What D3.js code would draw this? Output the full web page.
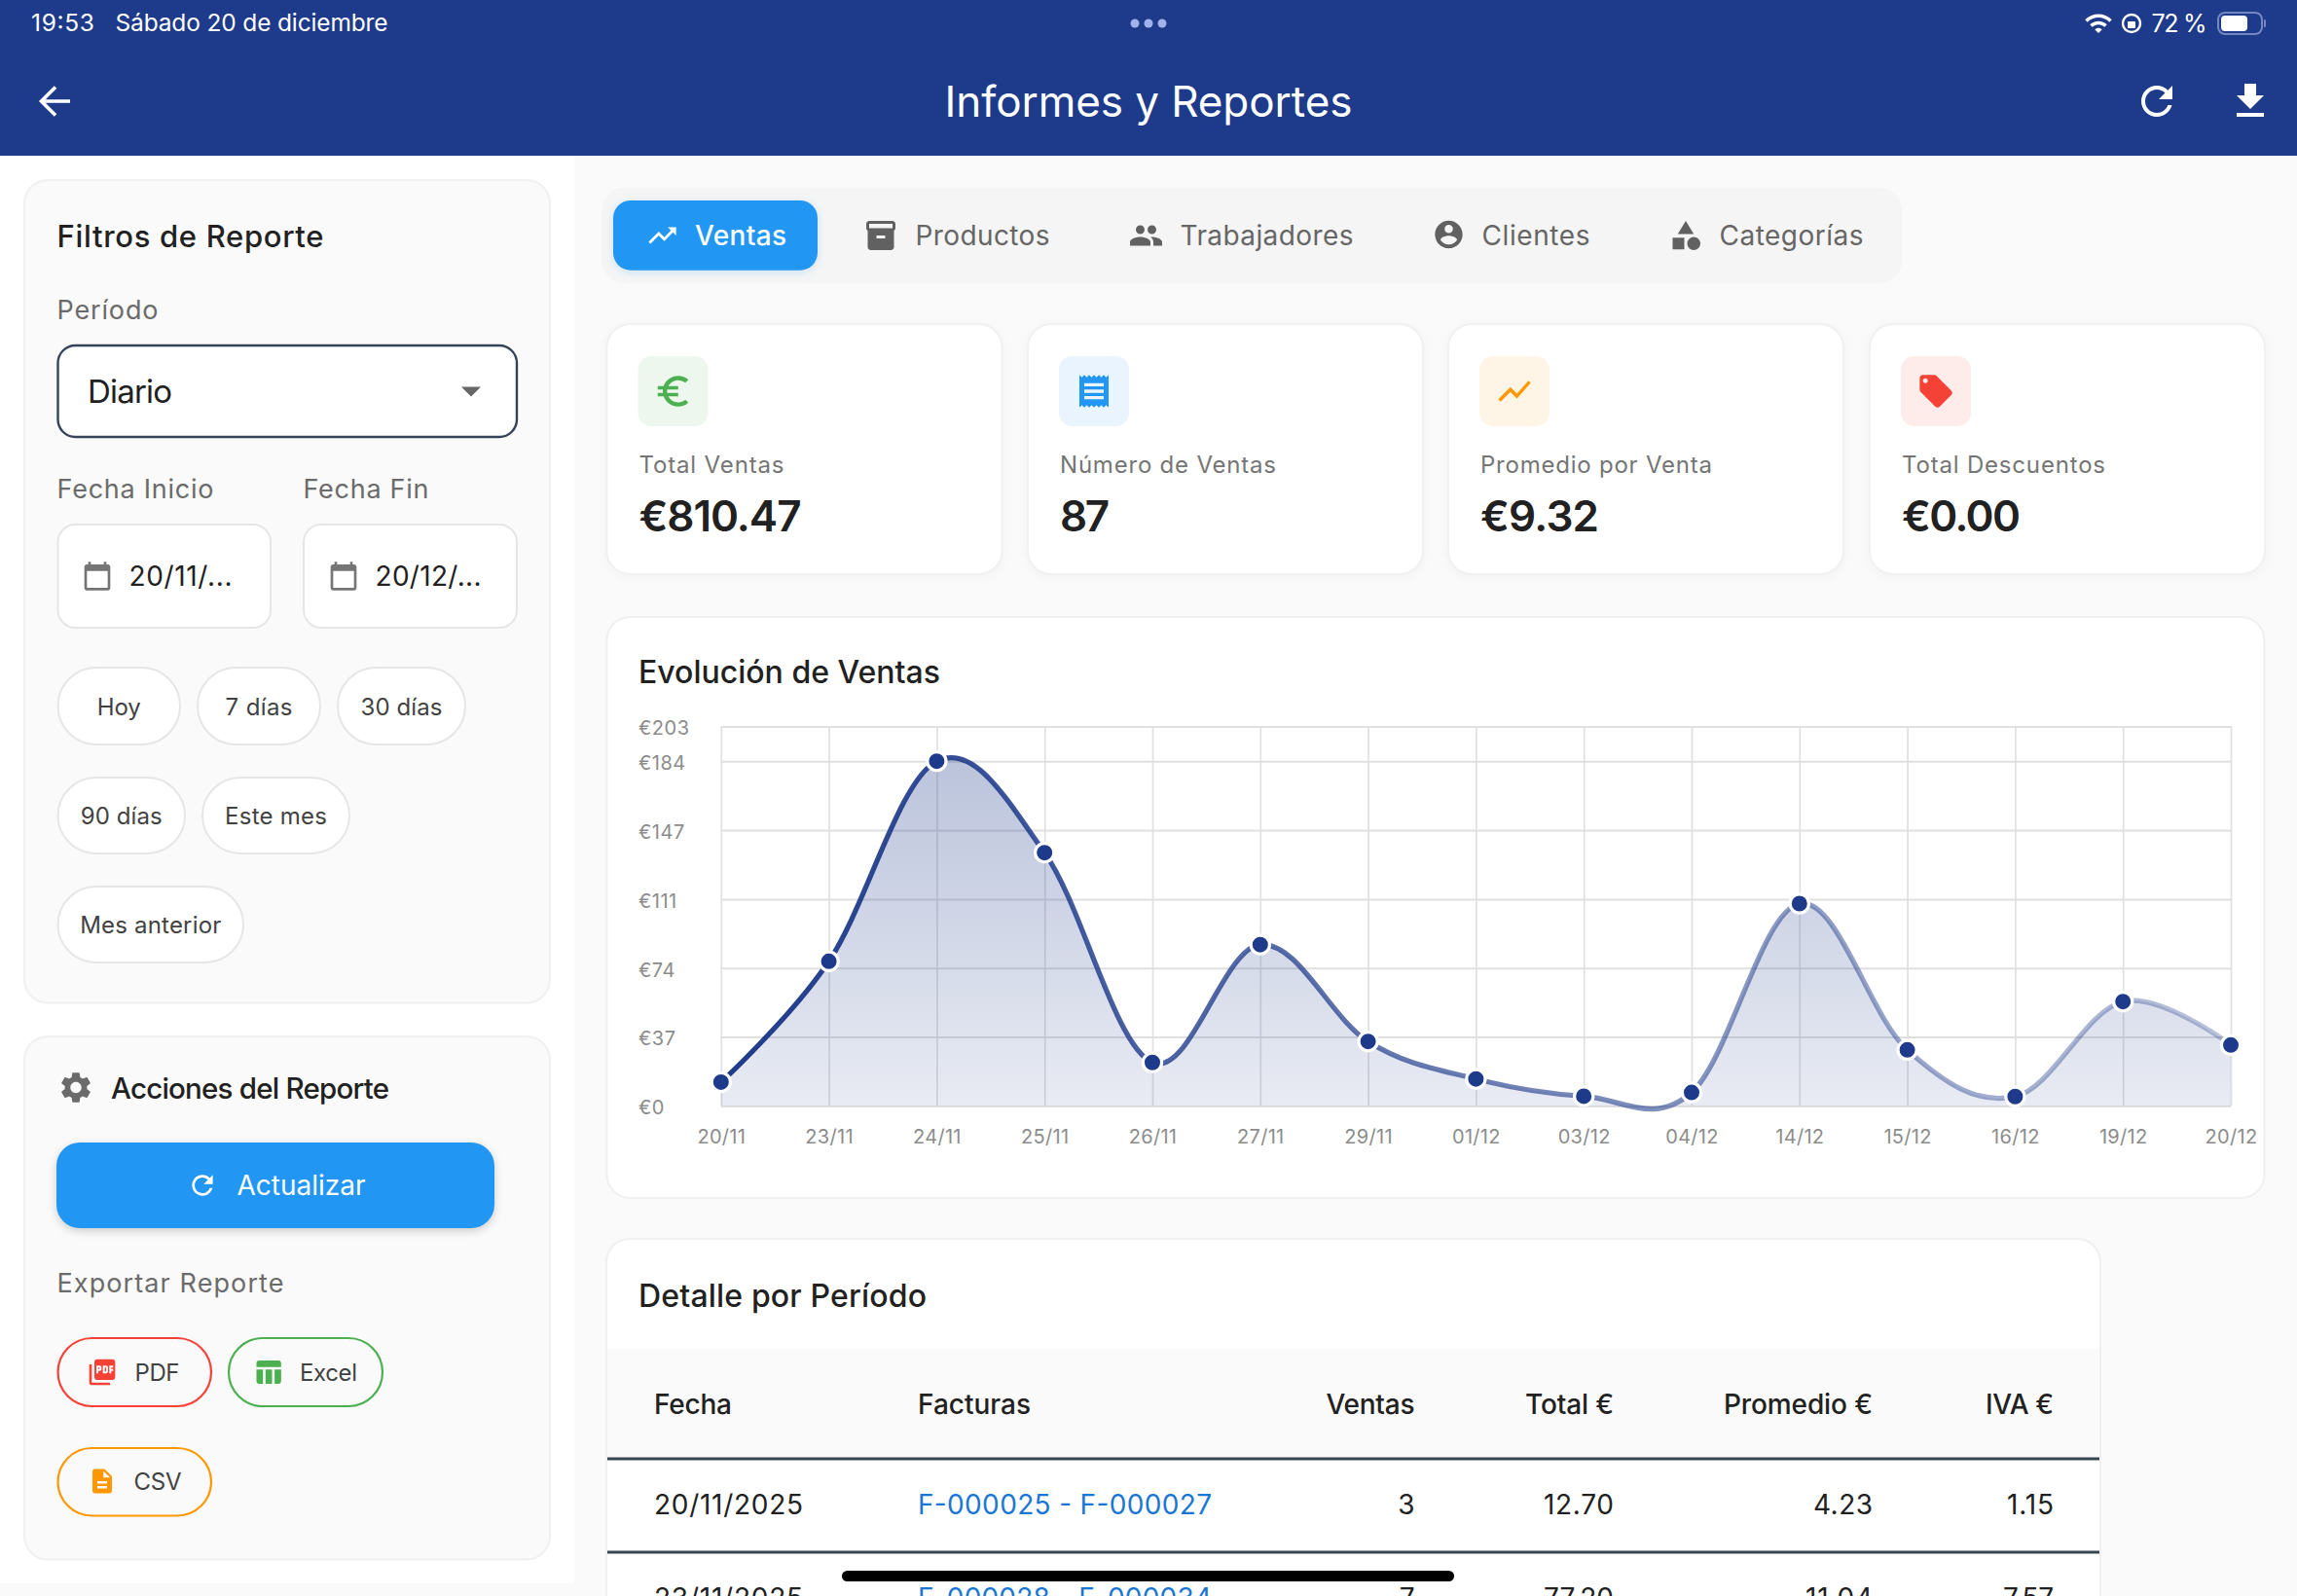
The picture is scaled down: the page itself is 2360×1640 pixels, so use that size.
<!DOCTYPE html>
<html lang="es">
<head>
<meta charset="utf-8">
<title>Informes y Reportes</title>
<script src="https://cdn.jsdelivr.net/npm/d3@7"></script>
<style>
html,body{margin:0;padding:0;background:#fafafa;overflow:hidden}
svg{display:block}
text{font-family:Inter,"Noto Sans",sans-serif}
</style>
</head>
<body>
<svg id="c" width="2360" height="1640" viewBox="0 0 2360 1640"></svg>
<script>
// ---------- DATA ----------
const dates = ["20/11","23/11","24/11","25/11","26/11","27/11","29/11","01/12","03/12","04/12","14/12","15/12","16/12","19/12","20/12"];
const sales = [12.7,77.2,184,135.2,23.2,86.1,34.4,14.4,5.2,7.2,108,29.9,5,55.7,32.5];
const yTickValues = [0,36.8,73.6,110.4,147.2,184,202.6];
const yTickLabels = ["€0","€37","€74","€111","€147","€184","€203"];
const kpiLabels = ["Total Ventas","Número de Ventas","Promedio por Venta","Total Descuentos"];
const kpiValues = ["€810.47","87","€9.32","€0.00"];
const tableHeaders = ["Fecha","Facturas","Ventas","Total €","Promedio €","IVA €"];
const rowDates = ["20/11/2025","23/11/2025"];
const rowInvoices = ["F-000025 - F-000027","F-000028 - F-000034"];
const rowVentas = ["3","7"];
const rowTotals = ["12.70","77.20"];
const rowAverages = ["4.23","11.04"];
const rowIva = ["1.15","7.57"];

// ---------- ICONS ----------
const P = {
 refresh:"M17.65 6.35C16.2 4.9 14.21 4 12 4c-4.42 0-7.99 3.58-7.99 8s3.57 8 7.99 8c3.73 0 6.84-2.55 7.73-6h-2.08c-.82 2.33-3.04 4-5.65 4-3.31 0-6-2.69-6-6s2.69-6 6-6c1.66 0 3.14.69 4.22 1.78L13 11h7V4l-2.35 2.35z",
 download:"M19 9h-4V3H9v6H5l7 7 7-7zM5 18v2h14v-2H5z",
 trend:"M16 6l2.29 2.29-4.88 4.88-4-4L2 16.59 3.41 18l6-6 4 4 6.3-6.29L22 12V6z",
 show:"M3.5 18.49l6-6.01 4 4L22 6.92l-1.41-1.41-7.09 7.97-4-4L2 16.99z",
 box:"M20 2H4c-1 0-2 .9-2 2v3.01c0 .72.43 1.34 1 1.69V20c0 1.1 1.1 2 2 2h14c.9 0 2-.9 2-2V8.7c.57-.35 1-.97 1-1.69V4c0-1.1-1-2-2-2zm-5 12H9v-2h6v2zm5-7H4V4l16-.02V7z",
 people:"M16 11c1.66 0 2.99-1.34 2.99-3S17.66 5 16 5c-1.66 0-3 1.34-3 3s1.34 3 3 3zm-8 0c1.66 0 2.99-1.34 2.99-3S9.66 5 8 5C6.34 5 5 6.34 5 8s1.34 3 3 3zm0 2c-2.33 0-7 1.17-7 3.5V19h14v-2.5c0-2.33-4.67-3.5-7-3.5zm8 0c-.29 0-.62.02-.97.05 1.16.84 1.97 1.97 1.97 3.45V19h6v-2.5c0-2.33-4.67-3.5-7-3.5z",
 account:"M12 2C6.48 2 2 6.48 2 12s4.48 10 10 10 10-4.48 10-10S17.52 2 12 2zm0 3c1.66 0 3 1.34 3 3s-1.34 3-3 3-3-1.34-3-3 1.34-3 3-3zm0 14.2c-2.5 0-4.71-1.28-6-3.22.03-1.99 4-3.08 6-3.08 1.99 0 5.97 1.09 6 3.08-1.29 1.94-3.5 3.22-6 3.22z",
 category:"M12 2l-5.5 9h11zM17.5 13a4.5 4.5 0 1 0 0 9a4.5 4.5 0 1 0 0-9zM3 13.5h8v8H3z",
 calendar:"M20 3h-1V1h-2v2H7V1H5v2H4c-1.1 0-2 .9-2 2v16c0 1.1.9 2 2 2h16c1.1 0 2-.9 2-2V5c0-1.1-.9-2-2-2zm0 18H4V8h16v13z",
 gear:"M19.14 12.94c.04-.3.06-.61.06-.94 0-.32-.02-.64-.07-.94l2.03-1.58c.18-.14.23-.41.12-.61l-1.92-3.32c-.12-.22-.37-.29-.59-.22l-2.39.96c-.5-.38-1.03-.7-1.62-.94l-.36-2.54c-.04-.24-.24-.41-.48-.41h-3.84c-.24 0-.43.17-.47.41l-.36 2.54c-.59.24-1.13.57-1.62.94l-2.39-.96c-.22-.08-.47 0-.59.22L2.74 8.87c-.12.21-.08.47.12.61l2.03 1.58c-.05.3-.09.63-.09.94s.02.64.07.94l-2.03 1.58c-.18.14-.23.41-.12.61l1.92 3.32c.12.22.37.29.59.22l2.39-.96c.5.38 1.03.7 1.62.94l.36 2.54c.05.24.24.41.48.41h3.84c.24 0 .44-.17.47-.41l.36-2.54c.59-.24 1.13-.56 1.62-.94l2.39.96c.22.08.47 0 .59-.22l1.92-3.32c.12-.22.07-.47-.12-.61l-2.01-1.58zM12 15.6c-1.98 0-3.6-1.62-3.6-3.6s1.62-3.6 3.6-3.6 3.6 1.62 3.6 3.6-1.62 3.6-3.6 3.6z",
 pdf:"M20 2H8c-1.1 0-2 .9-2 2v12c0 1.1.9 2 2 2h12c1.1 0 2-.9 2-2V4c0-1.1-.9-2-2-2zm-8.5 7.5c0 .83-.67 1.5-1.5 1.5H9v2H7.5V7H10c.83 0 1.5.67 1.5 1.5v1zm5 2c0 .83-.67 1.5-1.5 1.5h-2.5V7H15c.83 0 1.5.67 1.5 1.5v3zm4-3H19v1h1.5V11H19v2h-1.5V7h3v1.5zM9 9.5h1v-1H9v1zM4 6H2v14c0 1.1.9 2 2 2h14v-2H4V6zm10 5.5h1v-3h-1v3z",
 table:"M10 10.02h5V21h-5zM17 21h3c1.1 0 2-.9 2-2v-9h-5v11zm3-18H5c-1.1 0-2 .9-2 2v3h19V5c0-1.1-.9-2-2-2zM3 19c0 1.1.9 2 2 2h3V10H3v9z",
 doc:"M14 2H6c-1.1 0-1.99.9-1.99 2L4 20c0 1.1.89 2 1.99 2H18c1.1 0 2-.9 2-2V8l-6-6zm2 16H8v-2h8v2zm0-4H8v-2h8v2zm-3-5V3.5L18.5 9H13z",
 euro:"M15 18.5c-2.51 0-4.68-1.42-5.76-3.5H15v-2H8.58c-.05-.33-.08-.66-.08-1s.03-.67.08-1H15V9H9.24C10.32 6.92 12.5 5.5 15 5.5c1.61 0 3.09.59 4.23 1.57L21 5.3C19.41 3.87 17.3 3 15 3c-3.92 0-7.24 2.51-8.56 6H3v2h3.06c-.04.33-.06.66-.06 1 0 .34.02.67.06 1H3v2h3.44c1.32 3.49 4.64 6 8.56 6 2.31 0 4.41-.87 6-2.3l-1.78-1.77c-1.13.98-2.6 1.57-4.22 1.57z",
 receipt:"M18 17H6v-2h12v2zm0-4H6v-2h12v2zm0-4H6V7h12v2zM3 22l1.5-1.5L6 22l1.5-1.5L9 22l1.5-1.5L12 22l1.5-1.5L15 22l1.5-1.5L18 22l1.5-1.5L21 22V2l-1.5 1.5L18 2l-1.5 1.5L15 2l-1.5 1.5L12 2l-1.5 1.5L9 2 7.5 3.5 6 2 4.5 3.5 3 2v20z",
 tag:"M21.41 11.58l-9-9C12.05 2.22 11.55 2 11 2H4c-1.1 0-2 .9-2 2v7c0 .55.22 1.05.59 1.42l9 9c.36.36.86.58 1.41.58.55 0 1.05-.22 1.41-.59l7-7c.37-.36.59-.86.59-1.41 0-.55-.23-1.06-.59-1.42zM5.5 7C4.67 7 4 6.33 4 5.5S4.67 4 5.5 4 7 4.67 7 5.5 6.33 7 5.5 7z",
 wifi:"M1 9l2 2c4.97-4.97 13.03-4.97 18 0l2-2C16.93 2.93 7.08 2.93 1 9zm8 8l3 3 3-3c-1.65-1.66-4.34-1.66-6 0zm-4-4l2 2c2.76-2.76 7.24-2.76 10 0l2-2C15.14 9.14 8.87 9.14 5 13z"
};

const svg = d3.select("#c");
const defs = svg.append("defs");
const NAVY = "#1e3a8a";

function rect(x0,y0,x1,y1,r,fill,stroke,sw,shadow){
  const s = svg.append("rect").attr("x",x0).attr("y",y0).attr("width",x1-x0).attr("height",y1-y0)
    .attr("rx",r).attr("ry",r).attr("fill",fill).attr("stroke",stroke||"none").attr("stroke-width",sw||0);
  if(shadow) s.style("filter",shadow);
  return s;
}
// yc = vertical centre of capitals; w = measured text width
function text(str,x,yc,size,color,opt){
  opt = opt||{};
  const t = svg.append("text").text(str).attr("x",x).attr("y",yc+size*0.36)
    .attr("font-size",size).attr("fill",color).attr("font-weight",opt.weight||400)
    .attr("text-anchor",opt.anchor||"start");
  if(opt.w){ t.attr("textLength",opt.w).attr("lengthAdjust","spacing"); }
  return t;
}
function icon(name,cx,cy,size,color){
  const k = size/24;
  svg.append("path").attr("d",P[name]).attr("fill",color).attr("fill-rule","evenodd")
    .attr("transform",`translate(${cx-12*k},${cy-12*k}) scale(${k})`);
}

// ---------- PAGE ----------
rect(0,0,2360,1640,0,"#fafafa");
rect(0,160,590,1627,0,"#ffffff");

// Header
rect(0,0,2360,160,0,NAVY);
text("19:53",32,23,24.5,"#fff",{w:65});
text("Sábado 20 de diciembre",118.5,23,24.5,"#fff",{w:280});
[1166,1180,1194].forEach(x=>svg.append("circle").attr("cx",x).attr("cy",24).attr("r",4.5).attr("fill","#9fb2ea"));
icon("wifi",2156,24,30,"#fff");
svg.append("circle").attr("cx",2190).attr("cy",24).attr("r",9).attr("fill","none").attr("stroke","#fff").attr("stroke-width",2.4);
rect(2186,22,2194,29,1,"#fff");
text("72 %",2210.5,24,25,"#fff",{w:57});
rect(2279,13,2324,35,7,"none","#7287c4",2);
rect(2282,16,2309,32,4,"#fff");
rect(2326,20,2328,28,1,"#7287c4");
text("Informes y Reportes",1180,104,44,"#fff",{anchor:"middle",w:419});
svg.append("path").attr("d","M72,104H43M57,89.5L42.5,104L57,118.5").attr("fill","none").attr("stroke","#fff").attr("stroke-width",3.6);
icon("refresh",2216,104,48,"#fff");
icon("download",2312,104,48,"#fff");

// Filter card
rect(25,185,565,1030.5,24,"#fafafa","#f0f0f0",2);
text("Filtros de Reporte",58.5,243,31,"#212121",{weight:500,w:274});
text("Período",58.5,318,27,"#6b6b6b",{w:104});
rect(59.5,355,531,449,18,"#fff","#34435a",2.4);
text("Diario",90,402,33,"#212121",{w:87});
svg.append("path").attr("d","M474,397.5h20l-10,10z").attr("fill","#666");
text("Fecha Inicio",58.5,502,27,"#6b6b6b",{w:161});
text("Fecha Fin",311.5,502,27,"#6b6b6b",{w:129});
rect(59.5,539,278,645,18,"#fff","#e6e6e6",2);
rect(312,539,531,645,18,"#fff","#e6e6e6",2);
icon("calendar",100,592,32,"#757575");
icon("calendar",353,592,32,"#757575");
text("20/11/...",132.5,592,28,"#212121",{w:106});
text("20/12/...",385.5,592,28,"#212121",{w:109});

const chip = (s,x0,x1,y0,y1,tw)=>{
  rect(x0,y0,x1,y1,(y1-y0)/2,"#fff","#e6e6e6",2);
  text(s,(x0+x1)/2,(y0+y1)/2+0.5,24,"#424242",{anchor:"middle",w:tw});
};
chip("Hoy",59.5,185,686,765,45);
chip("7 días",203,329,686,765,69);
chip("30 días",347,478,686,765,84);
chip("90 días",59.5,190,799,877,84);
chip("Este mes",208,359,799,877,105);
chip("Mes anterior",59.5,250,911,989,145);

// Actions card
rect(25,1065,565,1602.5,24,"#fafafa","#f0f0f0",2);
icon("gear",78,1117.5,38,"#6b6b6b");
text("Acciones del Reporte",114,1118,29.5,"#212121",{weight:500,w:286});
rect(58,1174,508,1262,24,"#2196f3",null,0,"drop-shadow(0 3px 4px rgba(0,0,0,.18))");
icon("refresh",208,1218,32,"#fff");
text("Actualizar",243.5,1218,28,"#fff",{weight:400,w:132});
text("Exportar Reporte",58.5,1318,27,"#6b6b6b",{w:233});
rect(59.5,1375,217,1445,35,"#fafafa","#f44336",2.2);
icon("pdf",105,1410,32,"#f44336");
text("PDF",138.5,1410,24,"#424242",{w:46});
rect(235,1375,393,1445,35,"#fafafa","#4caf50",2.2);
icon("table",275.5,1410,32,"#4caf50");
text("Excel",308,1410,24,"#424242",{w:59});
rect(59.5,1488,217,1557.5,35,"#fafafa","#ff9800",2.2);
icon("doc",105,1522,30,"#ff9800");
text("CSV",137.5,1522,24,"#424242",{w:49});

// Tabs
rect(618,192.5,1954,291.5,24,"#f5f5f5");
rect(630,206,840,277.7,18,"#2196f3",null,0,"drop-shadow(0 2px 4px rgba(33,150,243,.2))");
icon("trend",680.5,242,34,"#fff");
text("Ventas",714,242,28,"#fff",{weight:500,w:94});
icon("box",905,242,36,"#616161");
text("Productos",940.5,242,28,"#666",{w:138});
icon("people",1177.5,242,36,"#616161");
text("Trabajadores",1212.5,242,28,"#666",{w:178});
icon("account",1488.5,241,34,"#616161");
text("Clientes",1522.5,242,28,"#666",{w:111});
icon("category",1732,242,36,"#616161");
text("Categorías",1766.5,242,28,"#666",{w:148});

// KPI cards
const kpiX = [623.5,1056,1488,1921];
const kpiTint = ["#edf7ed","#e9f4fe","#fff5e6","#feecea"];
const kpiColor = ["#4caf50","#2196f3","#ff9800","#f44336"];
const kpiIcon = ["euro","receipt","show","tag"];
const kpiIconSize = [42,40,40,40];
const kpiW = [167,51,122,122];
const kpiLabelW = [149,222,238,209];
kpiLabels.forEach((l,i)=>{
  const x = kpiX[i];
  rect(x,333,x+406,590,24,"#fff","#f0f0f0",1.8,"drop-shadow(0 2px 5px rgba(0,0,0,.035))");
  rect(x+32,366,x+104,438,14,kpiTint[i]);
  icon(kpiIcon[i],x+68,402,kpiIconSize[i],kpiColor[i]);
  text(l,x+33,477.7,24,"#757575",{w:kpiLabelW[i]});
  text(kpiValues[i],x+33,530,44,"#212121",{weight:560,w:kpiW[i]});
});

// Chart card
rect(623.5,634,2326.5,1231,24,"#fff","#f0f0f0",2);
text("Evolución de Ventas",656,690.5,32,"#212121",{weight:500,w:310});

const x = d3.scalePoint().domain(dates).range([740.8,2292]);
const y = d3.scaleLinear().domain([0,202.6]).range([1136.4,746.4]);
const [xL,xR] = x.range(), [yB,yT] = y.range();
const curve = d3.curveCardinal.tension(-0.05);

const areaG = defs.append("linearGradient").attr("id","areaG").attr("gradientUnits","userSpaceOnUse")
  .attr("x1",0).attr("x2",0).attr("y1",y(d3.max(sales))).attr("y2",yB);
areaG.append("stop").attr("offset",0).attr("stop-color",NAVY).attr("stop-opacity",0.3);
areaG.append("stop").attr("offset",1).attr("stop-color",NAVY).attr("stop-opacity",0.1);
const lineG = defs.append("linearGradient").attr("id","lineG").attr("gradientUnits","userSpaceOnUse")
  .attr("x1",xL).attr("x2",xR).attr("y1",0).attr("y2",0);
lineG.append("stop").attr("offset",0).attr("stop-color",NAVY).attr("stop-opacity",1);
lineG.append("stop").attr("offset",1).attr("stop-color",NAVY).attr("stop-opacity",0.3);

const gridC = "#e0e0e0", labC = "#8c8c8c";
const gy = svg.append("g").attr("transform",`translate(${xL},0)`)
  .call(d3.axisLeft(y).tickValues(yTickValues).tickFormat((d,i)=>yTickLabels[i]).tickSize(-(xR-xL)).tickPadding(0));
gy.select(".domain").remove();
gy.selectAll(".tick line").attr("stroke",gridC).attr("stroke-width",2);
gy.selectAll(".tick text").attr("x",656-xL).attr("y",2).attr("text-anchor","start")
  .attr("font-size",20).attr("font-family","Inter").attr("fill",labC).attr("letter-spacing",0.5);
const gx = svg.append("g").attr("transform",`translate(0,${yB})`)
  .call(d3.axisBottom(x).tickSize(-(yB-yT)).tickPadding(0));
gx.select(".domain").remove();
gx.selectAll(".tick line").attr("stroke",gridC).attr("stroke-width",1.7);
gx.selectAll(".tick text").attr("y",39).attr("dy",0).attr("font-size",20).attr("font-family","Inter").attr("fill",labC).attr("letter-spacing",0.3);

svg.append("path").datum(sales).attr("fill","url(#areaG)")
  .attr("d",d3.area().x((d,i)=>x(dates[i])).y0(yB).y1(d=>y(d)).curve(curve));
svg.append("path").datum(sales).attr("fill","none").attr("stroke","url(#lineG)").attr("stroke-width",5.2)
  .attr("d",d3.line().x((d,i)=>x(dates[i])).y(d=>y(d)).curve(curve));
svg.append("g").selectAll("circle").data(sales).join("circle")
  .attr("cx",(d,i)=>x(dates[i])).attr("cy",d=>y(d)).attr("r",9.6)
  .attr("fill",NAVY).attr("stroke","#fff").attr("stroke-width",3.2);

// Table card
rect(623,1273,2158,1700,24,"#fff","#f0f0f0",2);
text("Detalle por Período",656,1331,32,"#212121",{weight:500,w:296});
rect(624,1386,2157,1498,0,"#fafafa");
const colX = [672,943,1453.5,1658,1924,2110];
const colA = ["start","start","end","end","end","end"];
const colHW = [80,116,91,91,153,70];
tableHeaders.forEach((h,i)=>text(h,colX[i],1442.5,28,"#212121",{weight:500,anchor:colA[i],w:colHW[i]}));
const ruleC = "#37474f";
[1499,1595].forEach(yy=>svg.append("line").attr("x1",624).attr("x2",2157).attr("y1",yy).attr("y2",yy).attr("stroke",ruleC).attr("stroke-width",3));
const colWData = [[153,302,15,72,61,48],[153,302,15,72,69,52]];
rowDates.forEach((d,r)=>{
  const yc = 1546+r*96;
  [rowDates,rowInvoices,rowVentas,rowTotals,rowAverages,rowIva].forEach((col,i)=>{
    text(col[r],colX[i],yc,28,i===1?"#1976d2":"#212121",{anchor:colA[i],w:colWData[r][i]});
  });
});
rect(865,1614,1494,1625,5.5,"#000");
</script>
</body>
</html>
